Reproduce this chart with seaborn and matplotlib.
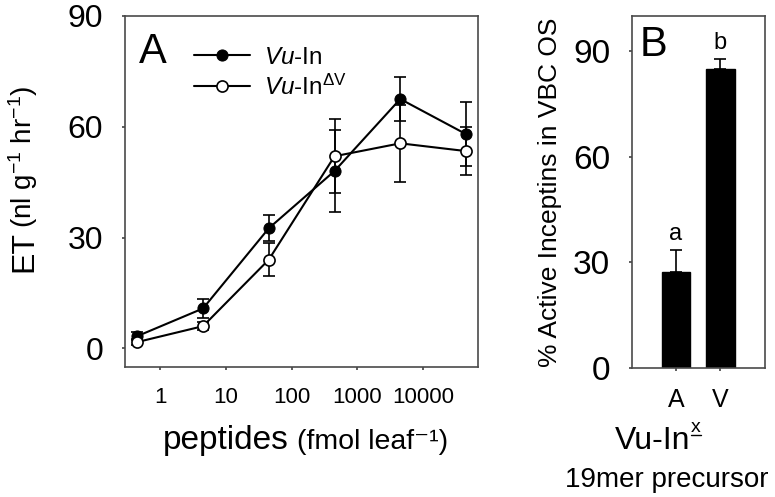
import numpy as np
import pandas as pd
import matplotlib
matplotlib.use("Agg")
import matplotlib.pyplot as plt
from matplotlib.lines import Line2D
import seaborn as sns

# data panel A
dose = [0.45, 4.5, 45, 450, 4500, 45000]
et_vuin = [3.3, 10.8, 32.5, 48, 67.5, 58]
err_vuin = [1.0, 2.5, 3.5, 11, 6, 8.7]
et_dv = [1.7, 6, 24, 52, 55.5, 53.4]
err_dv = [0.8, 1.0, 4.5, 10, 10.5, 6.6]

# data panel B
residues = ["A", "V"]
active = [27.1, 84.8]
active_err = [6.4, 3.0]
letters = ["a", "b"]

sns.set_theme(style="ticks")
plt.rcParams['font.family'] = ['Liberation Sans', 'DejaVu Sans']
plt.rcParams['mathtext.fontset'] = 'custom'
plt.rcParams['mathtext.rm'] = 'Liberation Sans'
plt.rcParams['mathtext.it'] = 'Liberation Sans:italic'
plt.rcParams['mathtext.default'] = 'regular'
plt.rcParams['text.color'] = 'black'
plt.rcParams['axes.labelcolor'] = 'black'

fig = plt.figure(figsize=(7.75, 4.97), dpi=100)
axA = fig.add_axes([0.161, 0.262, 0.456, 0.706])
axB = fig.add_axes([0.815, 0.260, 0.172, 0.708])

spine_col = "#4a4a4a"

# panel A
df = pd.DataFrame({"dose": dose * 2,
                   "et": et_vuin + et_dv,
                   "peptide": ["Vu-In"] * 6 + ["Vu-In dV"] * 6})
sns.lineplot(data=df[df.peptide == "Vu-In"], x="dose", y="et", color="black",
             marker="o", markersize=8, markerfacecolor="black", markeredgecolor="black",
             linewidth=1.5, ax=axA, label=r"$\it{Vu}$-In", zorder=4)
sns.lineplot(data=df[df.peptide == "Vu-In dV"], x="dose", y="et", color="black",
             marker="o", markersize=8, markerfacecolor="white", markeredgecolor="black",
             markeredgewidth=1.2, linewidth=1.5, ax=axA, label=r"$\it{Vu}$-In$^{\Delta V}$", zorder=5)
axA.errorbar(dose, et_vuin, yerr=err_vuin, fmt="none", ecolor="black", elinewidth=1.2,
             capsize=4.5, capthick=1.2, zorder=3)
axA.errorbar(dose, et_dv, yerr=err_dv, fmt="none", ecolor="black", elinewidth=1.2,
             capsize=4.5, capthick=1.2, zorder=3)
axA.set_xscale("log")
axA.set_xlim(0.29, 69000)
axA.set_ylim(-5, 90)
axA.set_yticks([0, 30, 60, 90])
axA.set_xticks([1, 10, 100, 1000, 10000])
axA.set_xticklabels(["1", "10", "100", "1000", "10000"])
axA.minorticks_off()
axA.tick_params(axis="y", labelsize=23, length=2.5, color=spine_col, labelcolor="black", pad=13)
axA.tick_params(axis="x", labelsize=16, length=2.5, color=spine_col, labelcolor="black", pad=12)
axA.set_xlabel("")
axA.set_ylabel("")
for s in axA.spines.values():
    s.set_color(spine_col)
    s.set_linewidth(1.2)
leg = axA.legend(loc="upper left", bbox_to_anchor=(0.134, 0.975), frameon=False,
                 fontsize=17.5, handlelength=2.3, handletextpad=0.6, labelspacing=0.25)
axA.text(0.04, 0.955, "A", transform=axA.transAxes, fontsize=30, va="top", ha="left")

# axis labels, mixed sizes
fig.text(163 / 775, 1 - 449 / 497, "peptides", fontsize=24, ha="left", va="baseline")
fig.text(297 / 775, 1 - 449 / 497, "(fmol leaf⁻¹)", fontsize=20.5, ha="left", va="baseline")
fig.text(32 / 775, 1 - 272 / 497, "ET", fontsize=23, rotation=90, rotation_mode="anchor",
         ha="left", va="baseline")
fig.text(32 / 775, 1 - 228 / 497, r"(nl g$^{-1}$ hr$^{-1}$)", fontsize=20, rotation=90,
         rotation_mode="anchor", ha="left", va="baseline")

# panel B
sns.barplot(x=residues, y=active, color="black", width=0.64, ax=axB, saturation=1,
            edgecolor="black")
axB.errorbar([0, 1], active, yerr=[[0, 0], active_err], fmt="none", ecolor="black",
             elinewidth=1.2, capsize=4, capthick=1.2)
for i, (v, e, l) in enumerate(zip(active, active_err, letters)):
    axB.text(i, v + e + 1.5, l, ha="center", va="bottom", fontsize=17)
axB.set_xlim(-1, 2.0)
axB.set_ylim(0, 100)
axB.set_yticks([0, 30, 60, 90])
axB.tick_params(axis="y", labelsize=24, length=2.5, color=spine_col, labelcolor="black", pad=13)
axB.tick_params(axis="x", labelsize=18, length=2.5, color=spine_col, labelcolor="black", pad=12)
for s in axB.spines.values():
    s.set_color(spine_col)
    s.set_linewidth(1.2)
axB.set_ylabel("% Active Inceptins in VBC OS", fontsize=19, labelpad=8)
axB.set_xlabel("")
axB.text(0.06, 0.975, "B", transform=axB.transAxes, fontsize=30, va="top", ha="left")

# x label of panel B: Vu-In with underlined superscript x
t_main = fig.text(690 / 775, 1 - 449 / 497, "Vu-In", fontsize=23, ha="right", va="baseline")
t_sup = fig.text(691 / 775, 1 - 432 / 497, "x", fontsize=14, ha="left", va="baseline")
fig.text(667 / 775, 1 - 487 / 497, "19mer precursor", fontsize=20, ha="center", va="baseline")

fig.canvas.draw()
bb = t_sup.get_window_extent()
uy = bb.y0 + 1
fig.add_artist(Line2D([bb.x0 / fig.bbox.width, bb.x1 / fig.bbox.width],
                      [uy / fig.bbox.height, uy / fig.bbox.height],
                      color="black", linewidth=1.0, transform=fig.transFigure))

fig.savefig("out.png", dpi=100)
